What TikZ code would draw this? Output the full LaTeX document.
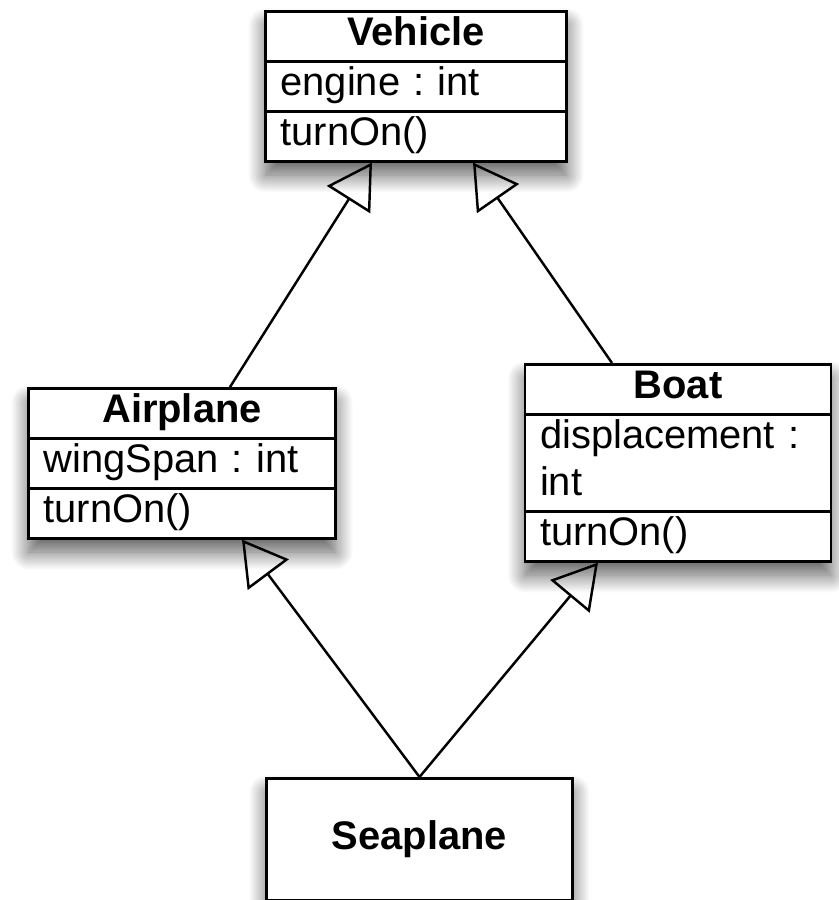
\documentclass[tikz,border=0pt]{standalone}
\usepackage{fontspec}
\setmainfont{Liberation Sans}
\usetikzlibrary{shapes.multipart, arrows.meta, calc, shadows.blur}
\tikzstyle{umlbox} = [draw, line width=1.6pt, fill=white, inner xsep=0.3cm, inner ysep=0pt, align=left, font=\fontsize{22.7}{26.8}\selectfont\frenchspacing, blur shadow={shadow xshift=0pt, shadow yshift=-8pt, shadow blur radius=10pt, shadow blur steps=25, shadow opacity=65}]
\tikzstyle{umlclass} = [umlbox, rectangle split, rectangle split parts=3]
\tikzstyle{inherit} = [line width=1.4pt, -{Triangle[open, length=25pt, width=29pt, line width=1.4pt]}]

\begin{document}
\begin{tikzpicture}[x=0.02cm, y=-0.02cm]
        \useasboundingbox (0,0) rectangle (839,900);
        \node (vehicle) [umlclass, text width=5.42cm, anchor=north] at (416,10)
              {\hfill\bfseries\strut Vehicle\hfill\null
               \nodepart{two}\strut engine : int
               \nodepart{three}\strut turnOn()};
        \node (airplane) [umlclass, text width=5.54cm, anchor=north] at (182,387)
              {\hfill\bfseries\strut Airplane\hfill\null
               \nodepart{two}\strut wingSpan : int
               \nodepart{three}\strut turnOn()};
        \node (boat) [umlclass, text width=5.52cm, anchor=north] at (678,363)
              {\hfill\bfseries\strut Boat\hfill\null
               \nodepart{two}\strut displacement :\\\strut int
               \nodepart{three}\strut turnOn()};
        \node (seaplane) [umlbox, text width=5.52cm, minimum height=2.44cm, anchor=north, align=center] at (419.5,777)
              {\bfseries Seaplane};

        \draw [inherit] ($(airplane.north)+(48,0)$) -- ($(vehicle.south)+(-44,0)$);
        \draw [inherit] ($(boat.north)+(-66,0)$) -- ($(vehicle.south)+(57,0)$);
        \draw [inherit] (seaplane.north) -- ($(airplane.south)+(60,0)$);
        \draw [inherit] (seaplane.north) -- ($(boat.south)+(-80,0)$);
      \end{tikzpicture}
\end{document}
